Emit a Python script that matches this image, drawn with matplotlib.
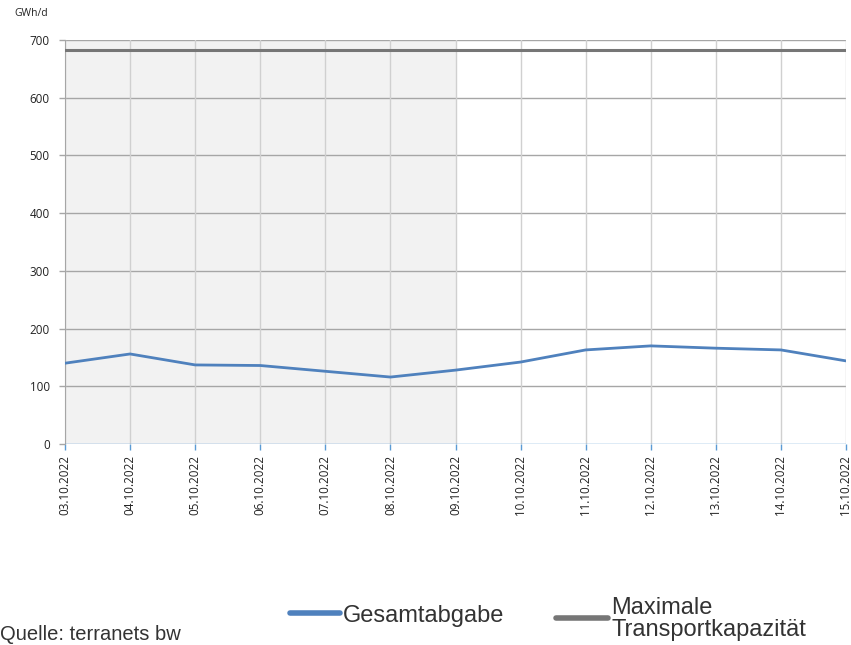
import matplotlib
matplotlib.use("Agg")
import matplotlib.pyplot as plt
from matplotlib.lines import Line2D

dates = ["03.10.2022", "04.10.2022", "05.10.2022", "06.10.2022", "07.10.2022",
         "08.10.2022", "09.10.2022", "10.10.2022", "11.10.2022", "12.10.2022",
         "13.10.2022", "14.10.2022", "15.10.2022"]
gesamtabgabe = [140, 156, 137, 136, 126, 116, 128, 142, 163, 170, 166, 163, 144]
kapazitaet = [683] * len(dates)
shade_start = "03.10.2022"
shade_end = "09.10.2022"
yticks = [0, 100, 200, 300, 400, 500, 600, 700]

fig = plt.figure(figsize=(8.51, 6.45), dpi=100)
ax = fig.add_axes([65/851, 1-444/645, (846-65)/851, (444-40)/645])

x = list(range(len(dates)))
ax.axvspan(dates.index(shade_start), dates.index(shade_end), color="#f2f2f2", zorder=0, lw=0)

for yv in yticks[1:]:
    ax.axhline(yv, color="#a6a6a6", lw=1.0, zorder=1)
for xv in x:
    ax.axvline(xv, color="#d0d0d0", lw=1.0, zorder=1)

ax.plot(x, kapazitaet, color="#767676", lw=2.2, zorder=3)
ax.plot(x, gesamtabgabe, color="#4f81bd", lw=2.0, zorder=4)
ax.axhline(0, color="#5b9bd5", lw=1.0, zorder=5)

ax.set_xlim(0, len(dates)-1)
ax.set_ylim(0, 700)
ax.set_yticks(yticks)
ax.set_xticks(x)
ax.set_xticklabels(dates, rotation=90, fontsize=8.4, family="Open Sans", color="#222222")
ax.set_yticklabels([str(v) for v in yticks], fontsize=8.4, family="Open Sans", color="#222222")
for s in ["top", "right", "bottom"]:
    ax.spines[s].set_visible(False)
ax.spines["left"].set_color("#a6a6a6")
ax.tick_params(axis="both", length=4, color="#a6a6a6", width=1)
ax.tick_params(axis="y", pad=7)
ax.tick_params(axis="x", color="#5b9bd5", pad=4)

fig.text(14/851, 1-13/645, "GWh/d", fontsize=7.5, family="Open Sans", color="#222222", va="center")

# legend
fig.add_artist(Line2D([290/851, 340/851], [1-613/645, 1-613/645], color="#4f81bd", lw=4,
                      solid_capstyle="round", transform=fig.transFigure))
fig.text(343/851, 1-616/645, "Gesamtabgabe", fontsize=17, family="Liberation Sans", color="#333333", va="center")
fig.add_artist(Line2D([556/851, 608/851], [1-618/645, 1-618/645], color="#767676", lw=4,
                      solid_capstyle="round", transform=fig.transFigure))
fig.text(611/851, 1-619/645, "Maximale\nTransportkapazität", fontsize=17, family="Liberation Sans",
         color="#333333", va="center", linespacing=1.05)

fig.text(0/851, 1-634/645, "Quelle: terranets bw", fontsize=14.5, family="Liberation Sans", color="#333333", va="center")

fig.savefig("out.png", dpi=100)
